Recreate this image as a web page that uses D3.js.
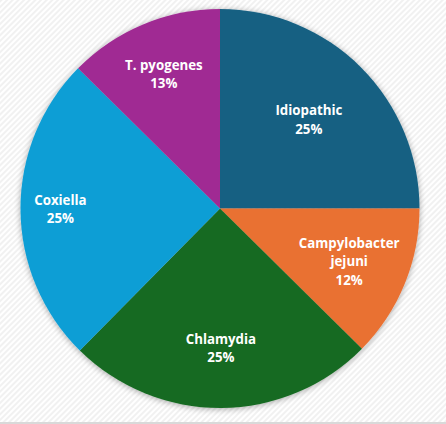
<!DOCTYPE html>
<html>
<head>
<meta charset="utf-8">
<script src="https://cdn.jsdelivr.net/npm/d3@7"></script>
<style>
  html, body { margin: 0; padding: 0; background: #fff; }
  svg { display: block; }
</style>
</head>
<body>
<svg id="chart" width="446" height="424"></svg>
<script>
const categories = ["Idiopathic", "Campylobacter jejuni", "Chlamydia", "Coxiella", "T. pyogenes"];
const values = [25, 12.4, 25, 25, 12.6];
const labelLines = [["Idiopathic"], ["Campylobacter", "jejuni"], ["Chlamydia"], ["Coxiella"], ["T. pyogenes"]];
const colors = ["#156082", "#E97132", "#196B24", "#0F9ED5", "#A02B93"];

const W = 446, H = 424;
const cx = 220, cy = 208.5, R = 199.5;
const labelRadiusFrac = [0.63, 0.70, 0.70, 0.80, 0.73];

const svg = d3.select("#chart");
const defs = svg.append("defs");

const pat = defs.append("pattern")
  .attr("id", "hatch").attr("patternUnits", "userSpaceOnUse")
  .attr("width", 4).attr("height", 4)
  .attr("patternTransform", "rotate(45)");
pat.append("rect").attr("width", 4).attr("height", 4).attr("fill", "#ffffff");
pat.append("rect").attr("width", 2).attr("height", 4).attr("fill", "#f1f1f1");

svg.append("rect").attr("width", W).attr("height", H).attr("fill", "url(#hatch)");
svg.append("line").attr("x1", 0).attr("x2", W).attr("y1", 423).attr("y2", 423)
  .attr("stroke", "#d9d9d9").attr("stroke-width", 2);

const shadow = defs.append("filter").attr("id", "shadow")
  .attr("x", "-20%").attr("y", "-20%").attr("width", "140%").attr("height", "140%");
shadow.append("feGaussianBlur").attr("in", "SourceAlpha").attr("stdDeviation", 3).attr("result", "blur");
shadow.append("feOffset").attr("in", "blur").attr("dx", 0).attr("dy", 1).attr("result", "off");
shadow.append("feComponentTransfer").attr("in", "off").attr("result", "sh")
  .append("feFuncA").attr("type", "linear").attr("slope", 0.35);
const merge = shadow.append("feMerge");
merge.append("feMergeNode").attr("in", "sh");
merge.append("feMergeNode").attr("in", "SourceGraphic");

const pie = d3.pie().sort(null).value(d => d);
const arcs = pie(values);
const arc = d3.arc().innerRadius(0).outerRadius(R);
const total = d3.sum(values);

const g = svg.append("g").attr("transform", `translate(${cx},${cy})`);
const slices = g.append("g").attr("filter", "url(#shadow)");
slices.selectAll("path").data(arcs).join("path")
  .attr("d", arc)
  .attr("fill", (d, i) => colors[i]);

const fontSize = 13.3, lineH = 18.5;
arcs.forEach((d, i) => {
  const la = d3.arc().innerRadius(0).outerRadius(2 * R * labelRadiusFrac[i]);
  const [x, y] = la.centroid(d);
  const lines = labelLines[i].concat([Math.round(values[i] / total * 100) + "%"]);
  const y0 = y - (lines.length - 1) * lineH / 2;
  const t = g.append("text")
    .attr("text-anchor", "middle")
    .attr("font-family", "'Open Sans', 'Noto Sans', sans-serif")
    .attr("font-weight", "bold")
    .attr("font-size", fontSize)
    .attr("fill", "#ffffff");
  lines.forEach((ln, j) => {
    t.append("tspan").attr("x", x).attr("y", y0 + j * lineH).attr("dy", "0.35em").text(ln);
  });
});
</script>
</body>
</html>
